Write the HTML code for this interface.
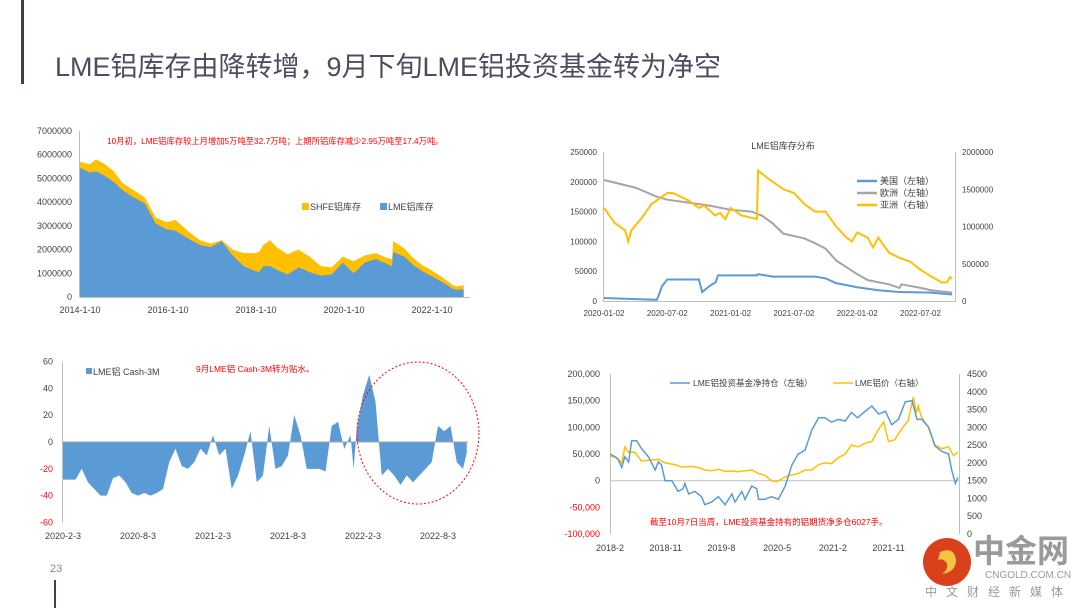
<!DOCTYPE html>
<html><head><meta charset="utf-8">
<style>
html,body{margin:0;padding:0;background:#fff;}
body{width:1080px;height:608px;overflow:hidden;position:relative;font-family:"Liberation Sans","Noto Sans CJK SC",sans-serif;}
svg text{font-family:"Liberation Sans","Noto Sans CJK SC",sans-serif;}
</style></head><body>
<svg id="s" width="1080" height="608" viewBox="0 0 1080 608" xmlns="http://www.w3.org/2000/svg">
<rect x="21" y="0" width="3" height="84" fill="#3b3f55"/>
<text x="55" y="76" font-size="27" fill="#4a4e60">LME铝库存由降转增，9月下旬LME铝投资基金转为净空</text>
<text x="50" y="572" font-size="11" fill="#888">23</text>
<rect x="54" y="580" width="2" height="28" fill="#3b3f55"/>
<g id="c1"></g>
<g id="c2"></g>
<g id="c3"></g>
<g id="c4"></g>
<g>
<circle cx="947" cy="562" r="24" fill="#d9401c"/>
<path d="M940 552 q14 -6 16 8 q0 12 -14 14 q8 -6 4 -12 q-4 -4 -8 -2 z" fill="#f6c343"/>
<text x="973" y="562" font-size="32" font-weight="bold" fill="#9a9a9a">中金网</text>
<text x="985" y="578" font-size="10" fill="#9a9a9a">CNGOLD.COM.CN</text>
<text x="925" y="596" font-size="12" fill="#9a9a9a" letter-spacing="9">中文财经新媒体</text>
</g>
</svg>
<script>
const NS='http://www.w3.org/2000/svg';
// ---- Chart 1 data (years, million tonnes)
const c1Years=[2014.03,2014.25,2014.4,2014.6,2014.8,2015.0,2015.25,2015.5,2015.75,2016.0,2016.2,2016.5,2016.75,2017.0,2017.25,2017.5,2017.75,2018.0,2018.1,2018.2,2018.35,2018.5,2018.75,2019.0,2019.25,2019.5,2019.75,2020.0,2020.25,2020.5,2020.75,2021.0,2021.12,2021.15,2021.4,2021.6,2021.8,2022.0,2022.25,2022.5,2022.6,2022.75];
const c1Lme=[5.45,5.25,5.3,5.1,4.85,4.5,4.2,3.95,3.1,2.85,2.8,2.45,2.2,2.1,2.35,1.75,1.3,1.1,1.05,1.3,1.3,1.15,0.95,1.25,1.05,0.9,0.95,1.45,1.0,1.45,1.6,1.4,1.3,1.9,1.7,1.35,1.1,0.9,0.65,0.35,0.3,0.33];
const c1Total=[5.7,5.6,5.8,5.6,5.3,4.8,4.5,4.2,3.35,3.15,3.25,2.75,2.4,2.25,2.4,2.0,1.85,1.85,1.9,2.2,2.4,2.1,1.8,2.0,1.7,1.3,1.25,1.7,1.5,1.75,1.85,1.65,1.6,2.35,2.05,1.65,1.35,1.15,0.85,0.5,0.45,0.5];
const c1Ticks=[0,1000000,2000000,3000000,4000000,5000000,6000000,7000000];
const c1XLabels=['2014-1-10','2016-1-10','2018-1-10','2020-1-10','2022-1-10'];
const c1XYears=[2014.03,2016.03,2018.03,2020.03,2022.03];
// ---- Chart 2 data (months from 2020-01)
const c2UsM=[0,5,5.2,5.5,6,9,9.3,10,10.6,10.8,14.5,14.6,16,20,21,22,24,26,28,31,33];
const c2Us=[5000,2000,10000,25000,36000,36000,15000,25000,32000,43000,43000,45000,41000,41000,38000,30000,23000,18000,15000,14000,11000];
const c2EuM=[0,3,5,6,8,10,12,14,15,16,17,19,20,21,22,24,25,27,28,28.2,30,31,33];
const c2Eu=[203000,190000,175000,170000,165000,160000,153000,150000,143000,130000,113000,105000,97000,88000,68000,45000,35000,28000,22000,28000,22000,18000,14000];
const c2AsM=[0,1,2,2.3,2.6,3.5,4.5,5.5,6,6.5,8,9,9.5,10.5,11,11.5,12,13,14.5,14.6,15.5,16,17,18,19,20,21,22,23,23.5,24,25,25.5,26,27,28,29,30,31,32,32.5,32.8,33];
const c2As=[1250000,1050000,950000,800000,950000,1100000,1300000,1400000,1450000,1450000,1350000,1250000,1280000,1150000,1180000,1100000,1250000,1150000,1100000,1750000,1650000,1600000,1500000,1450000,1300000,1200000,1200000,1000000,850000,800000,920000,850000,720000,850000,650000,580000,530000,420000,330000,250000,250000,320000,300000];
const c2LeftTicks=[0,50000,100000,150000,200000,250000];
const c2RightTicks=[0,500000,1000000,1500000,2000000];
const c2XLabels=['2020-01-02','2020-07-02','2021-01-02','2021-07-02','2022-01-02','2022-07-02'];
const c2XMonths=[0,6,12,18,24,30];
// ---- Chart 3 data (half-months from 2020-02)
const c3Months=[0,1,1.5,2,2.5,3,3.5,4,4.5,5,5.5,6,6.5,7,7.5,8,8.5,9,9.5,10,10.5,11,11.5,12,12.5,13,13.5,14,14.5,15,15.5,16,16.5,17,17.5,18,18.5,19,19.5,20,20.5,21,21.5,22,22.5,23,23.25,23.5,24,24.5,25,25.5,26,26.5,27,27.5,28,28.5,29,29.5,30,30.5,31,31.5,32,32.3];
const c3Values=[-28,-28,-20,-30,-35,-40,-40,-27,-25,-30,-38,-40,-38,-40,-38,-35,-15,-5,-18,-20,-15,-5,-10,5,-10,-5,-35,-25,-10,8,-30,-25,12,-20,-18,-10,20,5,-20,-20,-20,-22,12,15,-5,5,-20,10,35,50,30,-25,-20,-25,-32,-25,-30,-25,-20,-15,12,8,12,-15,-20,-8];
const c3Ticks=[-60,-40,-20,0,20,40,60];
const c3XLabels=['2020-2-3','2020-8-3','2021-2-3','2021-8-3','2022-2-3','2022-8-3'];
const c3XMonths=[0,6,12,18,24,30];
// ---- Chart 4 data (months from 2018-02)
const c4FundM=[0,0.8,1.3,1.9,2.4,3.0,3.5,4.3,5.1,6.2,7.3,7.8,8.3,8.9,10,11,11.8,12.1,12.7,13.7,14.8,15.3,16.4,17.5,18.6,19.7,20.2,21.3,21.8,22.9,23.7,24,25,26.1,27.2,28.3,29.4,30.4,31.5,32.6,33.7,34.7,35.8,36.9,38,39,40,41.2,42.3,43.4,44.5,45.5,46.6,47.7,48.8,49.6,50.4,51.5,52.5,53.6,54.7,55.2,55.8,56.2];
const c4Fund=[50,45,40,25,45,35,75,75,60,45,20,35,30,0,0,-20,-15,-5,-25,-20,-30,-45,-40,-30,-45,-25,-40,-20,-35,-10,-15,-35,-35,-30,-35,-10,30,50,57,95,118,118,110,115,112,128,118,130,140,125,130,105,115,148,150,115,115,100,65,55,50,20,-5,6];
const c4PriceM=[0,1.1,1.9,2.4,3.0,4.0,5.1,6.7,7.8,8.9,10.5,11.6,13.2,14.3,15.3,16.4,17.5,18.6,19.7,20.7,21.8,22.9,24.0,25.0,26.1,26.9,28.3,29.3,30.4,31.5,32.6,33.7,34.7,35.8,36.9,38.0,39.0,40.1,41.2,42.3,43.3,44.2,45.0,46.0,47.1,48.2,49.0,49.5,49.8,50.3,51.4,52.5,53.6,54.7,55.5,56.2];
const c4Price=[2190,2150,2000,2450,2300,2300,2050,2080,2100,2000,1950,1880,1900,1870,1800,1780,1820,1760,1770,1750,1780,1800,1700,1650,1500,1470,1600,1660,1700,1800,1800,1950,2000,1980,2150,2250,2500,2450,2550,2600,2920,3150,2600,2650,2950,3200,3850,3400,3600,3300,3000,2500,2400,2450,2200,2300];
const c4LeftTicks=[-100000,-50000,0,50000,100000,150000,200000];
const c4RightTicks=[0,500,1000,1500,2000,2500,3000,3500,4000,4500];
const c4XLabels=['2018-2','2018-11','2019-8','2020-5','2021-2','2021-11'];
const c4XMonths=[0,9,18,27,36,45];

function el(parent,tag,attrs,text){const e=document.createElementNS(NS,tag);for(const k in attrs)e.setAttribute(k,attrs[k]);if(text!==undefined)e.textContent=text;parent.appendChild(e);return e;}
function fmt(v){return v.toString().replace(/\B(?=(\d{3})+(?!\d))/g,',');}
const TXT='#404040';

// ===== Chart 1
(function(){
 const g=document.getElementById('c1');
 const x=t=>80+(t-2014.03)*44, y=v=>297-v/7e6*166;
 let top=c1Years.map((t,i)=>x(t)+','+y(c1Total[i]*1e6)).join(' ');
 const a1=el(g,'polygon',{points:x(c1Years[0])+','+y(0)+' '+top+' '+x(c1Years[c1Years.length-1])+','+y(0),fill:'#ffc000'});
 
 
 let lt=c1Years.map((t,i)=>x(t)+','+y(c1Lme[i]*1e6)).join(' ');
 const a2=el(g,'polygon',{points:x(c1Years[0])+','+y(0)+' '+lt+' '+x(c1Years[c1Years.length-1])+','+y(0),fill:'#5b9bd5'});
 
 
 el(g,'line',{x1:79.5,y1:131,x2:79.5,y2:297,stroke:'#bfbfbf'});
 el(g,'line',{x1:79.5,y1:297.5,x2:470,y2:297.5,stroke:'#bfbfbf'});
 c1Ticks.forEach(v=>{const t=el(g,'text',{x:72,y:y(v)+3,'font-size':9,'text-anchor':'end',fill:TXT},String(v));
  
  });
 c1XLabels.forEach((s,i)=>{const t=el(g,'text',{x:x(c1XYears[i]),y:313,'font-size':9,'text-anchor':'middle',fill:TXT},s);
  
  });
 el(g,'rect',{x:302,y:203,width:7,height:7,fill:'#ffc000'});
 const l1=el(g,'text',{x:310,y:210,'font-size':9,fill:TXT},'SHFE铝库存');
 
 
 el(g,'rect',{x:380,y:203,width:7,height:7,fill:'#5b9bd5'});
 const l2=el(g,'text',{x:388,y:210,'font-size':9,fill:TXT},'LME铝库存');
 
 
 const n=el(g,'text',{x:107,y:144,'font-size':8.3,fill:'#ff0000'},'10月初，LME铝库存较上月增加5万吨至32.7万吨；上期所铝库存减少2.95万吨至17.4万吨。');
 
 
})();

// ===== Chart 2
(function(){
 const g=document.getElementById('c2');
 const x=m=>604+m*10.55, yL=v=>301-v/250000*149, yR=v=>301-v/2e6*149;
 el(g,'line',{x1:603.5,y1:152,x2:603.5,y2:301,stroke:'#bfbfbf'});
 el(g,'line',{x1:955.5,y1:152,x2:955.5,y2:301,stroke:'#bfbfbf'});
 el(g,'line',{x1:603,y1:301.5,x2:956,y2:301.5,stroke:'#bfbfbf'});
 c2LeftTicks.forEach(v=>{const t=el(g,'text',{x:597,y:yL(v)+3,'font-size':8,'text-anchor':'end',fill:TXT},String(v));
  
  });
 c2RightTicks.forEach(v=>{const t=el(g,'text',{x:962,y:yR(v)+3,'font-size':8,fill:TXT},String(v));
  
  });
 c2XLabels.forEach((s,i)=>{const t=el(g,'text',{x:x(c2XMonths[i]),y:316,'font-size':8,'text-anchor':'middle',fill:TXT},s);
  
  });
 const ti=el(g,'text',{x:783,y:149,'font-size':9,'text-anchor':'middle',fill:TXT},'LME铝库存分布');
 
 
 const p1=el(g,'polyline',{points:c2EuM.map((m,i)=>x(m)+','+yL(c2Eu[i])).join(' '),fill:'none',stroke:'#a5a5a5','stroke-width':2});
 
 
 const p2=el(g,'polyline',{points:c2UsM.map((m,i)=>x(m)+','+yL(c2Us[i])).join(' '),fill:'none',stroke:'#5b9bd5','stroke-width':2});
 
 
 const p3=el(g,'polyline',{points:c2AsM.map((m,i)=>x(m)+','+yR(c2As[i])).join(' '),fill:'none',stroke:'#ffc000','stroke-width':2});
 
 
 [['#5b9bd5','美国（左轴）',181],['#a5a5a5','欧洲（左轴）',193],['#ffc000','亚洲（右轴）',205]].forEach(d=>{
  el(g,'line',{x1:857,y1:d[2],x2:877,y2:d[2],stroke:d[0],'stroke-width':2.5});
  const t=el(g,'text',{x:880,y:d[2]+3,'font-size':9,fill:TXT},d[1]);
  
  });
})();

// ===== Chart 3
(function(){
 const g=document.getElementById('c3');
 const x=m=>63+m*12.5, y=v=>442-v*1.342;
 const pts=c3Months.map((m,i)=>x(m)+','+y(c3Values[i])).join(' ');
 const a=el(g,'polygon',{points:x(c3Months[0])+','+y(0)+' '+pts+' '+x(c3Months[c3Months.length-1])+','+y(0),fill:'#5b9bd5'});
 
 
 el(g,'line',{x1:62.5,y1:362,x2:62.5,y2:523,stroke:'#bfbfbf'});
 el(g,'line',{x1:62,y1:442,x2:468,y2:442,stroke:'#a6a6a6'});
 c3Ticks.forEach(v=>{const t=el(g,'text',{x:53,y:y(v)+3,'font-size':9,'text-anchor':'end',fill:v<0?'#ff0000':TXT},String(v));
  
  });
 c3XLabels.forEach((s,i)=>{const t=el(g,'text',{x:x(c3XMonths[i]),y:539,'font-size':9,'text-anchor':'middle',fill:TXT},s);
  
  });
 el(g,'rect',{x:86,y:368,width:6,height:6,fill:'#5b9bd5'});
 const l=el(g,'text',{x:93,y:375,'font-size':9,fill:TXT},'LME铝 Cash-3M');
 
 
 const n=el(g,'text',{x:196,y:372,'font-size':8.5,fill:'#ff0000'},'9月LME铝 Cash-3M转为贴水。');
 
 
 const e=el(g,'ellipse',{cx:418,cy:433,rx:61,ry:71,fill:'none',stroke:'#ff0000','stroke-width':1,'stroke-dasharray':'2,2'});
 
 
})();

// ===== Chart 4
(function(){
 const g=document.getElementById('c4');
 const x=m=>610+m*6.19, yL=v=>480.7-v/1000*0.5333, yR=p=>534-p*0.03556;
 el(g,'line',{x1:610.5,y1:374,x2:610.5,y2:534,stroke:'#bfbfbf'});
 el(g,'line',{x1:959.5,y1:374,x2:959.5,y2:534,stroke:'#bfbfbf'});
 el(g,'line',{x1:610,y1:480.7,x2:960,y2:480.7,stroke:'#bfbfbf'});
 c4LeftTicks.forEach(v=>{const t=el(g,'text',{x:600,y:yL(v)+3,'font-size':9,'text-anchor':'end',fill:v<0?'#ff0000':TXT},fmt(v));
  
  });
 c4RightTicks.forEach(v=>{const t=el(g,'text',{x:967,y:yR(v)+3,'font-size':9,fill:TXT},String(v));
  
  });
 c4XLabels.forEach((s,i)=>{const t=el(g,'text',{x:x(c4XMonths[i]),y:551,'font-size':9,'text-anchor':'middle',fill:TXT},s);
  
  });
 const p1=el(g,'polyline',{points:c4PriceM.map((m,i)=>x(m)+','+yR(c4Price[i])).join(' '),fill:'none',stroke:'#ffc000','stroke-width':1.5});
 
 
 const p2=el(g,'polyline',{points:c4FundM.map((m,i)=>x(m)+','+yL(c4Fund[i]*1000)).join(' '),fill:'none',stroke:'#5b9bd5','stroke-width':1.5});
 
 
 el(g,'line',{x1:670,y1:383,x2:690,y2:383,stroke:'#5b9bd5','stroke-width':1.5});
 const l1=el(g,'text',{x:693,y:386,'font-size':8.5,fill:TXT},'LME铝投资基金净持仓（左轴）');
 
 
 el(g,'line',{x1:833,y1:383,x2:853,y2:383,stroke:'#ffc000','stroke-width':1.5});
 const l2=el(g,'text',{x:855,y:386,'font-size':8.5,fill:TXT},'LME铝价（右轴）');
 
 
 const n=el(g,'text',{x:650,y:525,'font-size':8.5,fill:'#ff0000'},'截至10月7日当周，LME投资基金持有的铝期货净多仓6027手。');
 
 
})();
</script>
</body></html>
